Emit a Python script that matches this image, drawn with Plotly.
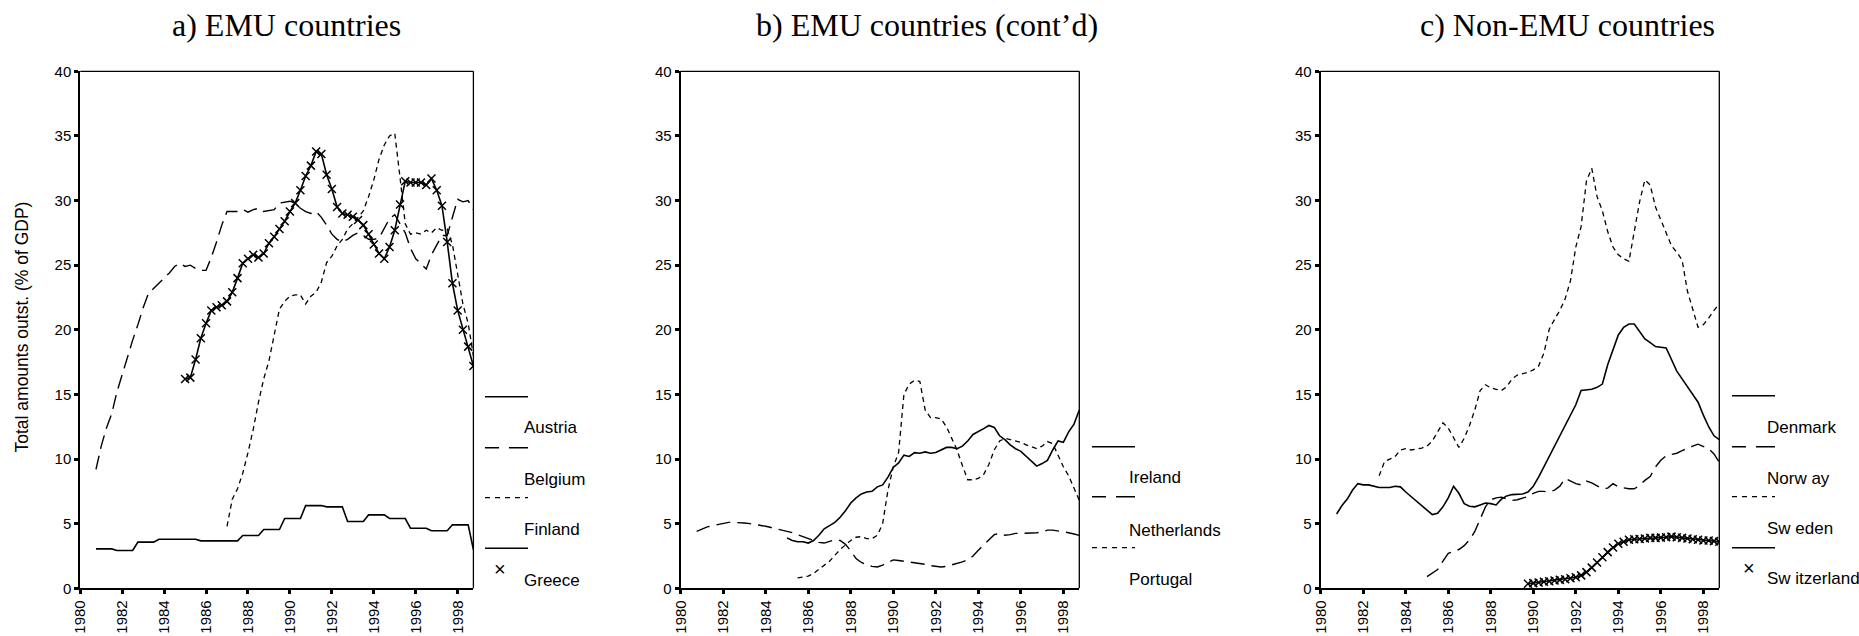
import plotly.graph_objects as go

W, H = 1859, 636

# ---------------- data (quarterly, % of GDP) ----------------
austria_start = 1980.75
austria = [3.05, 3.05, 3.05, 3.05, 2.93, 2.93, 2.93, 2.93, 3.57, 3.57, 3.57, 3.57,
           3.80, 3.80, 3.80, 3.80, 3.80, 3.80, 3.80, 3.80, 3.67, 3.67, 3.67, 3.67,
           3.67, 3.67, 3.67, 3.67, 4.09, 4.09, 4.09, 4.09, 4.55, 4.55, 4.55, 4.55,
           5.40, 5.40, 5.40, 5.40, 6.40, 6.40, 6.40, 6.40, 6.30, 6.30, 6.30, 6.30,
           5.17, 5.17, 5.17, 5.17, 5.68, 5.68, 5.68, 5.68, 5.40, 5.40, 5.40, 5.40,
           4.65, 4.65, 4.65, 4.65, 4.45, 4.45, 4.45, 4.45, 4.91, 4.91, 4.91, 4.91, 3.0]

belgium_start = 1980.75
belgium = [9.2, 11.0, 12.4, 13.5, 15.2, 16.6, 17.9, 19.2, 20.4, 21.7, 22.8, 23.2, 23.6,
           24.0, 24.4, 24.9, 25.15, 24.9, 25.0, 24.75, 24.6, 24.6, 25.6, 26.8, 28.1,
           29.15, 29.15, 29.15, 29.3, 29.1, 29.3, 29.4, 29.15, 29.2, 29.3, 29.8, 29.9,
           29.95, 29.8, 29.4, 29.15, 29.0, 29.15, 28.7, 28.1, 27.4, 27.0, 26.8, 27.0,
           27.3, 27.5, 27.3, 27.0, 27.0, 27.1, 27.8, 28.6, 28.9, 28.2, 27.5, 26.3,
           25.5, 25.1, 24.7, 25.8, 26.6, 27.3, 27.3, 28.8, 30.1, 29.9, 30.0, 29.3]

finland_start = 1987.0
finland = [4.8, 6.9, 7.7, 8.9, 10.5, 12.3, 14.4, 16.2, 17.6, 19.6, 21.6, 22.2,
           22.6, 22.7, 22.7, 22.0, 22.6, 22.9, 23.7, 25.2, 25.7, 26.5, 27.0, 27.8,
           28.2, 28.7, 29.2, 30.3, 31.6, 33.2, 34.3, 35.0, 35.2, 31.8, 28.2, 27.4,
           27.5, 27.4, 27.7, 27.5, 27.9, 27.7, 27.8, 26.6, 24.2, 22.0, 20.5, 18.0]

greece_start = 1985.0
greece = [16.2, 16.3, 17.7, 19.35, 20.5, 21.5, 21.75, 21.9, 22.2, 22.9, 24.0, 25.15,
          25.5, 25.8, 25.6, 25.9, 26.7, 27.2, 27.8, 28.4, 29.15, 29.8, 30.8, 31.9,
          32.7, 33.8, 33.6, 32.0, 30.9, 29.5, 29.0, 28.9, 28.75, 28.5, 28.1, 27.4,
          26.6, 25.9, 25.5, 26.4, 27.7, 29.7, 31.5, 31.4, 31.4, 31.4, 31.2, 31.7,
          30.8, 29.6, 26.8, 23.6, 21.5, 20.0, 18.7, 17.2]

ireland_start = 1985.0
ireland = [3.9, 3.7, 3.6, 3.6, 3.5, 3.7, 4.1, 4.6, 4.85, 5.1, 5.5, 6.0, 6.6, 7.0, 7.3,
           7.45, 7.5, 7.85, 8.0, 8.6, 9.35, 9.7, 10.3, 10.2, 10.5, 10.45, 10.55, 10.45,
           10.5, 10.7, 10.9, 10.9, 10.8, 11.0, 11.4, 11.9, 12.1, 12.35, 12.6, 12.45,
           11.8, 11.5, 11.1, 10.8, 10.6, 10.2, 9.8, 9.45, 9.65, 9.9, 10.7, 11.4,
           11.3, 12.1, 12.7, 13.8]

netherlands_start = 1980.75
netherlands = [4.4, 4.6, 4.75, 4.85, 4.95, 5.05, 5.1, 5.1, 5.1, 5.05, 5.0, 4.95, 4.9,
               4.8, 4.7, 4.6, 4.55, 4.45, 4.3, 4.15, 4.0, 3.8, 3.65, 3.55, 3.5, 3.65,
               3.75, 3.7, 3.4, 2.9, 2.3, 2.0, 1.8, 1.7, 1.65, 1.8, 2.0, 2.2, 2.15, 2.1,
               2.05, 2.0, 1.95, 1.85, 1.75, 1.7, 1.65, 1.7, 1.8, 1.95, 2.05, 2.2, 2.5,
               2.95, 3.35, 3.8, 4.15, 4.25, 4.1, 4.15, 4.25, 4.25, 4.25, 4.25, 4.3,
               4.35, 4.5, 4.5, 4.45, 4.4, 4.3, 4.2, 4.1]

portugal_start = 1985.5
portugal = [0.8, 0.85, 0.95, 1.15, 1.45, 1.75, 2.1, 2.55, 3.0, 3.35, 3.7, 3.95, 4.0,
            3.85, 3.85, 4.1, 5.0, 7.6, 9.4, 10.5, 15.0, 15.8, 16.1, 16.0, 13.8, 13.2,
            13.2, 13.1, 12.5, 11.6, 10.7, 9.5, 8.4, 8.4, 8.5, 8.8, 9.6, 10.7, 11.4,
            11.6, 11.5, 11.4, 11.3, 11.1, 10.95, 10.8, 11.0, 11.35, 11.2, 10.3, 9.4,
            8.7, 7.7, 6.8]

denmark_start = 1980.75
denmark = [5.75, 6.4, 6.9, 7.6, 8.1, 8.0, 8.0, 7.9, 7.8, 7.8, 7.8, 7.9, 7.85, 7.45,
           7.1, 6.8, 6.4, 6.1, 5.7, 5.8, 6.3, 7.0, 7.9, 7.35, 6.55, 6.35, 6.3, 6.45,
           6.6, 6.55, 6.45, 6.9, 7.15, 7.25, 7.3, 7.3, 7.45, 7.9, 8.6, 9.4, 10.2, 10.9,
           11.8, 12.6, 13.4, 14.2, 15.3, 15.35, 15.4, 15.55, 15.8, 17.3, 18.5, 19.6,
           20.2, 20.45, 20.45, 19.9, 19.3, 19.0, 18.7, 18.65, 18.6, 17.7, 16.8, 16.2,
           15.6, 15.0, 14.4, 13.4, 12.5, 11.8, 11.5]

norway_start = 1985.0
norway = [0.9, 1.15, 1.45, 2.1, 2.7, 2.85, 3.0, 3.3, 3.75, 4.4, 5.4, 6.3, 6.85, 7.0,
          7.05, 6.95, 6.8, 6.85, 6.95, 7.1, 7.35, 7.5, 7.5, 7.45, 7.6, 7.9, 8.5, 8.3,
          8.1, 8.0, 8.3, 8.15, 7.9, 7.7, 7.75, 8.1, 7.85, 7.75, 7.7, 7.7, 7.95, 8.35,
          8.65, 9.4, 9.9, 10.25, 10.35, 10.45, 10.65, 10.85, 11.0, 11.15, 11.0, 10.8,
          10.4, 9.75]

sweden_start = 1982.75
sweden = [8.7, 9.8, 10.0, 10.2, 10.7, 10.8, 10.7, 10.75, 10.85, 11.0, 11.4, 12.1, 12.8,
          12.4, 11.7, 10.9, 11.6, 12.6, 13.8, 15.3, 15.75, 15.5, 15.4, 15.3, 15.6,
          16.2, 16.5, 16.6, 16.7, 16.9, 17.2, 18.2, 20.05, 20.8, 21.5, 22.4, 23.8,
          26.4, 28.0, 31.5, 32.5, 30.3, 29.2, 27.6, 26.4, 25.8, 25.5, 25.3, 27.6,
          29.9, 31.6, 31.2, 29.5, 28.5, 27.6, 26.5, 26.0, 25.4, 23.0, 21.5, 20.2,
          20.4, 20.9, 21.5, 22.0]

switzerland_start = 1989.75
switzerland = [0.35, 0.4, 0.45, 0.5, 0.55, 0.6, 0.65, 0.7, 0.78, 0.85, 1.0, 1.25, 1.6,
               2.0, 2.4, 2.8, 3.15, 3.45, 3.6, 3.75, 3.8, 3.82, 3.85, 3.9, 3.9, 3.92,
               3.95, 4.0, 3.95, 3.9, 3.85, 3.8, 3.75, 3.7, 3.7, 3.65, 3.6]

x_ticks = [1980, 1982, 1984, 1986, 1988, 1990, 1992, 1994, 1996, 1998]
y_ticks = [0, 5, 10, 15, 20, 25, 30, 35, 40]
titles = ["a) EMU countries", "b) EMU countries (cont\u2019d)", "c) Non-EMU countries"]
y_title = "Total amounts outst. (% of GDP)"

# (name, values, start, style, markers)
panels = [
    [("Austria", austria, austria_start, "solid", False),
     ("Belgium", belgium, belgium_start, "long", False),
     ("Finland", finland, finland_start, "short", False),
     ("Greece", greece, greece_start, "solid", True)],
    [("Ireland", ireland, ireland_start, "solid", False),
     ("Netherlands", netherlands, netherlands_start, "long", False),
     ("Portugal", portugal, portugal_start, "short", False)],
    [("Denmark", denmark, denmark_start, "solid", False),
     ("Norw ay", norway, norway_start, "long", False),
     ("Sw eden", sweden, sweden_start, "short", False),
     ("Sw itzerland", switzerland, switzerland_start, "solid", True)],
]

# ---------------- layout geometry (pixels) ----------------
x_dom_px = [(80.25, 473.4), (680.7, 1079.3), (1320.7, 1719.3)]
y_top_px, y_bot_px = 71.3, 588.3
title_cx = [286, 927, 1567]
leg_line_x = [(485, 528), (1092, 1135), (1732, 1775)]
leg_text_x = [521.7, 1127.0, 1765.0]
leg_line_y = [[396.7, 447.7, 497.7, 548.3], [446.7, 496.7, 547.7],
              [395.7, 446.7, 496.7, 547.7]]
leg_text_y = [[427.5, 479.0, 529.0, 580.0], [477.5, 530.0, 579.0],
              [427.5, 478.0, 528.5, 578.5]]
leg_x_mark = [(500, 569), None, (1748.8, 568.3)]

DASH = {"solid": "solid", "long": "14px,7px", "short": "5px,4px"}
LEG_DASH = {"solid": "solid", "long": "14px,10px,19px,60px", "short": "5px,5px"}
WID = {"solid": 1.6, "long": 1.4, "short": 1.3}
SANS = "Liberation Sans, Arial, sans-serif"
SERIF = "Liberation Serif, Times New Roman, serif"

fig = go.Figure()
shapes, annos = [], []


def px_x(v):
    return v / W


def px_y(v):
    return 1 - v / H


for i, series in enumerate(panels):
    xa = "x" if i == 0 else f"x{i+1}"
    ya = "y" if i == 0 else f"y{i+1}"
    for name, vals, start, style, mk in series:
        xs = [start + 0.25 * k for k in range(len(vals))]
        fig.add_trace(go.Scatter(
            x=xs, y=vals, xaxis=xa, yaxis=ya, name=name, showlegend=False,
            mode="lines+markers" if mk else "lines",
            line=dict(color="black", width=WID[style], dash=DASH[style]),
            marker=dict(symbol="x-thin", size=8, line=dict(color="black", width=1.5)) if mk else None,
        ))
    axkey = "" if i == 0 else str(i + 1)
    fig.update_layout(**{
        f"xaxis{axkey}": dict(
            domain=[px_x(x_dom_px[i][0]), px_x(x_dom_px[i][1])], anchor=ya,
            range=[1980, 1998.75], tickmode="array", tickvals=x_ticks,
            ticktext=[str(t) for t in x_ticks], tickangle=-90, automargin=False,
            ticks="outside", ticklen=4, tickwidth=3, tickcolor="black",
            showline=True, linewidth=2, linecolor="black", showgrid=False, zeroline=False,
            tickfont=dict(family=SANS, size=15, color="black")),
        f"yaxis{axkey}": dict(
            domain=[px_y(y_bot_px), px_y(y_top_px)], anchor=xa,
            range=[0, 40], tickmode="array", tickvals=y_ticks, automargin=False,
            ticks="outside", ticklen=4, tickwidth=3, tickcolor="black",
            showline=True, linewidth=2, linecolor="black", showgrid=False, zeroline=False,
            tickfont=dict(family=SANS, size=15, color="black")),
    })
    xr = xa + " domain"
    yr = ya + " domain"
    shapes.append(dict(type="line", xref=xr, yref=yr, x0=0, x1=1, y0=1, y1=1,
                       line=dict(color="black", width=1.3)))
    shapes.append(dict(type="line", xref=xr, yref=yr, x0=1, x1=1, y0=0, y1=1,
                       line=dict(color="black", width=1.3)))
    # title
    annos.append(dict(text=titles[i], xref="paper", yref="paper", x=px_x(title_cx[i]),
                      y=px_y(25), xanchor="center", yanchor="middle", showarrow=False,
                      font=dict(family=SERIF, size=32, color="black")))
    # legend
    for j, (name, vals, start, style, mk) in enumerate(series):
        ly = leg_line_y[i][j]
        shapes.append(dict(type="line", xref="paper", yref="paper",
                           x0=px_x(leg_line_x[i][0]), x1=px_x(leg_line_x[i][1]),
                           y0=px_y(ly), y1=px_y(ly),
                           line=dict(color="black", width=WID[style], dash=LEG_DASH[style])))
        annos.append(dict(text=name, xref="paper", yref="paper", x=px_x(leg_text_x[i]),
                          y=px_y(leg_text_y[i][j]), xanchor="left", yanchor="middle",
                          showarrow=False, font=dict(family=SANS, size=17, color="black")))
    if leg_x_mark[i] is not None:
        mx, my = leg_x_mark[i]
        annos.append(dict(text="\u00d7", xref="paper", yref="paper", x=px_x(mx), y=px_y(my),
                          xanchor="center", yanchor="middle", showarrow=False,
                          font=dict(family=SANS, size=20, color="black")))

annos.append(dict(text=y_title, xref="paper", yref="paper", x=px_x(21.5), y=px_y(327),
                  xanchor="center", yanchor="middle", textangle=-90, showarrow=False,
                  font=dict(family=SANS, size=17.5, color="black")))

fig.update_layout(width=W, height=H,
                  margin=dict(l=0, r=0, t=0, b=0, pad=0, autoexpand=False),
                  paper_bgcolor="white", plot_bgcolor="white",
                  shapes=shapes, annotations=annos, showlegend=False)

fig.write_html("out.html", config={"responsive": False, "displayModeBar": False},
               post_script="document.body.style.margin='0px';document.body.style.padding='0px';")
